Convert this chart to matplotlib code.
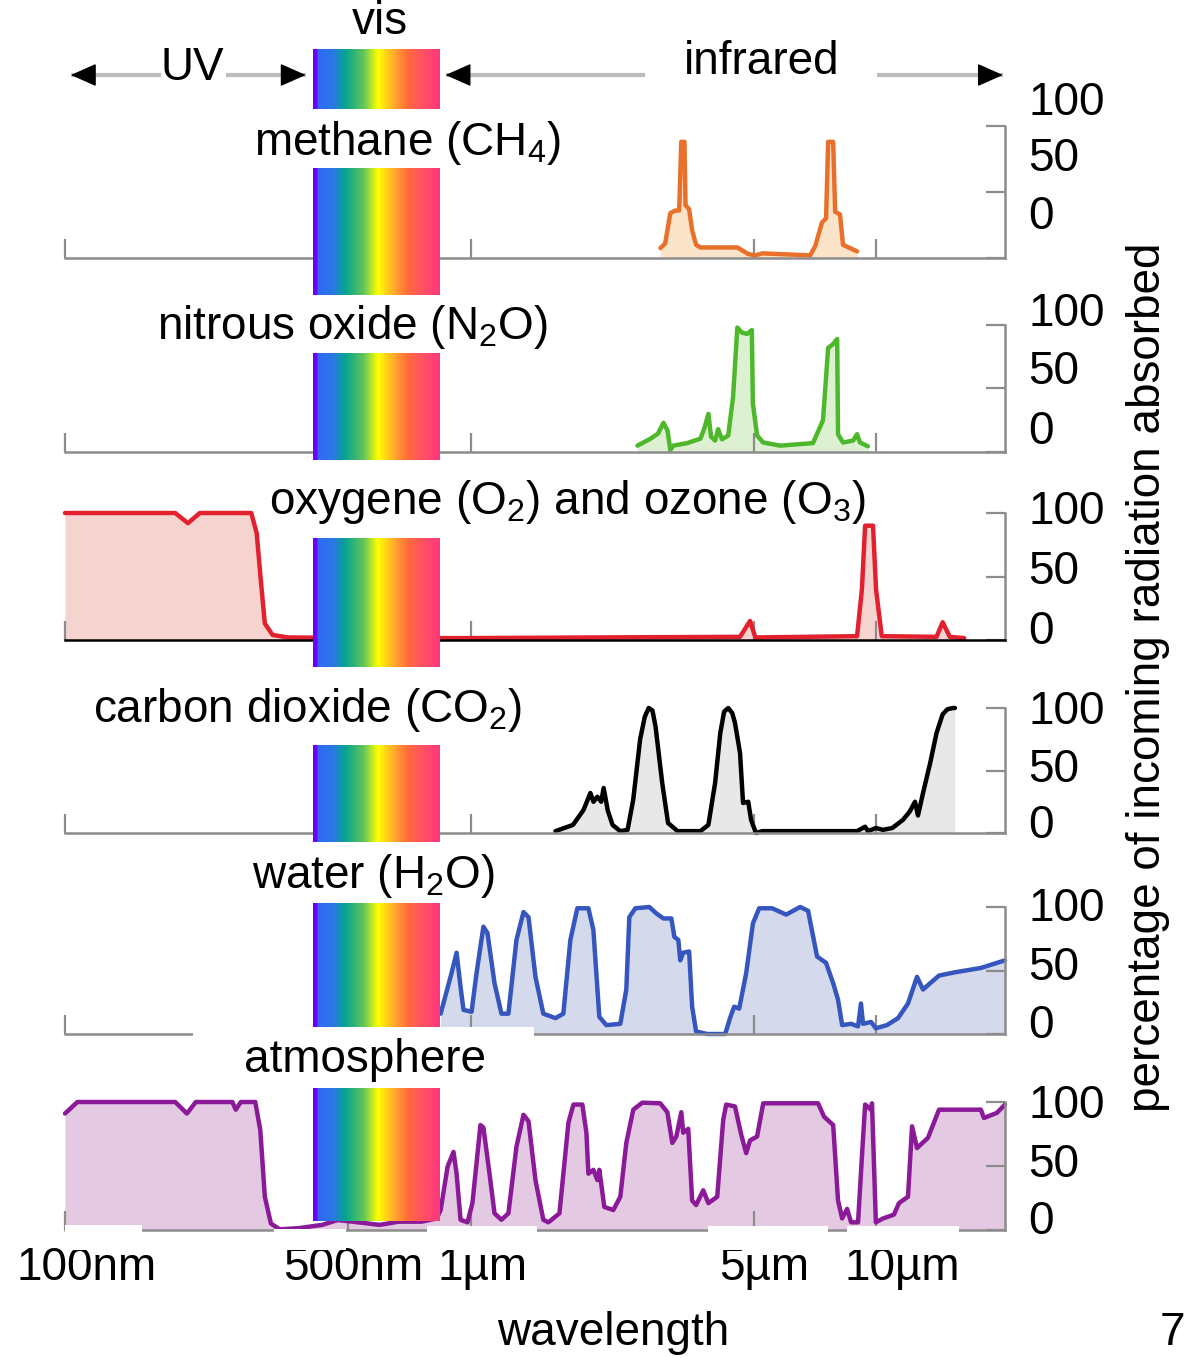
import matplotlib
matplotlib.use("Agg")
import matplotlib.pyplot as plt
import numpy as np
from matplotlib.colors import LinearSegmentedColormap
from matplotlib.patches import Rectangle
from matplotlib.ticker import NullLocator
from matplotlib.transforms import blended_transform_factory, offset_copy

plt.rcParams["font.family"] = ["Liberation Sans", "DejaVu Sans"]
plt.rcParams["mathtext.fontset"] = "custom"
plt.rcParams["mathtext.rm"] = "Liberation Sans"
plt.rcParams["mathtext.it"] = "Liberation Sans:italic"
plt.rcParams["mathtext.bf"] = "Liberation Sans:bold"

# wavelength (µm), percentage absorbed
METHANE = [(2.94, 7.5), (3.02, 11), (3.11, 34), (3.20, 36), (3.27, 36), (3.31, 88),
           (3.37, 88), (3.39, 40), (3.46, 37), (3.52, 21), (3.60, 10), (3.69, 8),
           (4.55, 8), (4.84, 3), (5.04, 2), (5.24, 3.5), (6.88, 2), (7.08, 9),
           (7.36, 27), (7.53, 30), (7.62, 88), (7.84, 88), (7.93, 35), (8.15, 33),
           (8.29, 10), (8.63, 7.5), (8.98, 5)]

N2O = [(2.58, 5), (2.78, 10.5), (2.90, 14.5), (2.99, 23), (3.06, 17), (3.11, 1.5),
       (3.16, 5), (3.42, 7), (3.69, 10.5), (3.78, 19.5), (3.86, 30), (3.92, 12),
       (4.01, 9), (4.08, 18), (4.17, 10), (4.32, 13), (4.44, 43), (4.55, 98),
       (4.67, 94), (4.81, 93), (4.94, 96), (4.97, 38), (5.09, 13), (5.27, 7.5),
       (5.80, 5), (6.99, 7), (7.40, 25), (7.62, 82), (7.84, 85), (8.02, 89),
       (8.06, 14), (8.29, 7.5), (8.78, 9), (8.98, 14), (9.13, 7.5), (9.55, 4.5)]

O2_O3 = [(0.1, 100), (0.187, 100), (0.201, 92), (0.215, 100), (0.288, 100),
         (0.297, 84), (0.304, 47), (0.311, 13), (0.325, 4), (0.354, 2), (0.6, 1.5),
         (1.0, 1.5), (2.0, 2), (4.62, 2.5), (4.89, 15), (5.04, 2), (8.98, 3),
         (9.23, 40), (9.40, 90), (9.83, 90), (10.0, 40), (10.33, 3), (14.1, 2.5),
         (14.6, 14), (15.2, 2.5), (16.5, 1.5)]

CO2 = [(1.62, 1.5), (1.79, 6.5), (1.90, 18.5), (1.975, 32), (2.01, 25), (2.055, 29),
       (2.10, 25), (2.13, 36), (2.18, 18), (2.24, 6.5), (2.34, 1.5), (2.44, 2.5),
       (2.52, 27), (2.62, 75), (2.69, 93), (2.75, 100), (2.81, 98), (2.86, 85),
       (2.97, 40), (3.07, 8), (3.24, 1.5), (3.69, 1.5), (3.86, 6.5), (4.01, 40),
       (4.13, 80), (4.22, 97), (4.32, 100), (4.42, 96), (4.49, 88), (4.62, 64),
       (4.70, 24), (4.84, 25), (4.92, 10.5), (4.97, 6.5), (5.06, 0), (5.24, 1.5),
       (8.98, 1.5), (9.40, 5), (9.55, 1.5), (10.0, 4), (10.4, 2.5), (10.97, 4),
       (11.65, 10.5), (12.1, 17), (12.48, 25), (12.69, 14), (13.06, 32), (13.6, 56),
       (14.1, 80), (14.6, 95), (15.0, 99), (15.48, 100), (15.65, 100)]

WATER = [(0.844, 16), (0.898, 48), (0.924, 64), (0.945, 37), (0.961, 19), (1.006, 17.5),
         (1.035, 48), (1.076, 84.5), (1.101, 79.5), (1.146, 40), (1.192, 16), (1.240, 16),
         (1.298, 74), (1.351, 96), (1.390, 92), (1.446, 45), (1.512, 16), (1.620, 12.5),
         (1.694, 16), (1.763, 74), (1.834, 99), (1.953, 99), (2.009, 82), (2.078, 13.5),
         (2.163, 7), (2.341, 8), (2.422, 35), (2.464, 92), (2.550, 99), (2.760, 100),
         (2.872, 95), (2.99, 91), (3.128, 91), (3.182, 76.5), (3.255, 74), (3.29, 58),
         (3.346, 64), (3.46, 65), (3.52, 21.5), (3.60, 2), (3.835, 0), (4.246, 0),
         (4.370, 13), (4.469, 21.5), (4.598, 20), (4.785, 48), (4.97, 87), (5.150, 99),
         (5.544, 99), (6.003, 94), (6.50, 100), (6.80, 97), (6.92, 84.5), (7.156, 61),
         (7.53, 56), (7.84, 40), (8.06, 27), (8.25, 7), (8.68, 8), (9.03, 6), (9.18, 24),
         (9.29, 8), (9.72, 9.5), (9.99, 4.5), (10.64, 7), (11.33, 12.5), (11.99, 24),
         (12.62, 45), (13.06, 35), (13.6, 40), (14.30, 46), (15.6, 48.5), (18.14, 52),
         (20.8, 58)]

ATMOSPHERE = [(0.1, 91), (0.1073, 100), (0.187, 100), (0.1998, 91), (0.2102, 100),
              (0.2586, 100), (0.2637, 94), (0.2714, 100), (0.2946, 100), (0.3031, 78),
              (0.311, 26), (0.322, 5), (0.3384, 0.5), (0.378, 1.5), (0.4308, 4),
              (0.4703, 7.8), (0.5122, 6.5), (0.597, 4), (0.6648, 6.5), (0.7574, 6.5),
              (0.8245, 9), (0.844, 15.6), (0.878, 49.5), (0.908, 61), (0.924, 44),
              (0.945, 8), (0.983, 6), (1.011, 21), (1.058, 82), (1.076, 80), (1.114, 44),
              (1.146, 13), (1.192, 8), (1.240, 13), (1.298, 65), (1.351, 90), (1.390, 85),
              (1.446, 39), (1.512, 8), (1.556, 6), (1.657, 13), (1.744, 84), (1.794, 98),
              (1.887, 98), (1.931, 76), (1.953, 44), (2.009, 47), (2.055, 39), (2.078, 47),
              (2.138, 18), (2.250, 15.6), (2.341, 26), (2.422, 68), (2.52, 94),
              (2.652, 99.5), (2.937, 99), (3.058, 92), (3.145, 68), (3.217, 73), (3.31, 92),
              (3.346, 76), (3.443, 79), (3.52, 23), (3.60, 19.5), (3.749, 31), (3.86, 21),
              (4.059, 26), (4.199, 86), (4.271, 98), (4.49, 96.5), (4.651, 74.5),
              (4.785, 60), (4.89, 70), (5.09, 73), (5.27, 99), (7.196, 99), (7.445, 88.5),
              (7.84, 82), (8.06, 23), (8.25, 9), (8.484, 16.5), (8.68, 6), (9.03, 6),
              (9.23, 57), (9.40, 98), (9.72, 94), (9.775, 99), (9.99, 6), (10.4, 9),
              (11.07, 12), (11.39, 21), (11.99, 26), (12.27, 81), (12.62, 64), (13.43, 72),
              (14.30, 94), (18.14, 94), (18.45, 87.5), (19.86, 91.5), (20.8, 98)]

TITLES = ["methane (CH$_4$)", "nitrous oxide (N$_2$O)",
          "oxygene (O$_2$) and ozone (O$_3$)", "carbon dioxide (CO$_2$)",
          "water (H$_2$O)", "atmosphere"]
SERIES = [METHANE, N2O, O2_O3, CO2, WATER, ATMOSPHERE]
LINE_COLORS = ["#E8702A", "#4DB82B", "#E3202E", "#000000", "#3556BE", "#8A1A98"]
FILL_COLORS = ["#FCE4CA", "#DDF1D2", "#F5D4CF", "#E8E8E8", "#D4DAEB", "#E4C9E3"]

X_TICKS = [0.1, 0.5, 1, 5, 10]
X_TICK_LABELS = ["100nm", "500nm", "1µm", "5µm", "10µm"]
Y_TICKS = [100, 50, 0]
VIS_BAND = (0.408, 0.843)
XLIM = (0.1, 20.8)

# layout (pixel rows / columns of the 1187x1358 canvas)
W, H = 1187, 1358
FS = 33
GRAY = "#8C8C8C"
PANEL_ROWS = [(126, 258), (325, 452), (513, 640), (708, 833), (907, 1034), (1102, 1230)]
TITLE_POS = [(407, 143), (352, 327), (567, 502), (308, 710), (373, 876), (365, 1060)]
LABEL_SHIFT = [(23, 33, 41), (11, 17, 20), (1, 5, 8), (-4, 1, 7), (-2, 2, 8), (-4, 1, 8)]
RAINBOW_ROWS = [(49, 109), (168, 295), (353, 460), (538, 667), (745, 842), (903, 1027), (1088, 1221)]
TICK_LABEL_DX = [22, 5, 12, 10, 26]
MASKS = [(193, 1027, 534, 1042), (65, 1225, 142, 1250), (274, 1229, 346, 1250),
         (427, 1226, 537, 1250), (708, 1226, 828, 1250), (847, 1226, 959, 1250)]

RAINBOW = LinearSegmentedColormap.from_list("vis", [
    (0.0, "#6B00FF"), (0.03, "#6B00FF"), (0.04, "#3068F2"), (0.16, "#2A78E4"),
    (0.25, "#04A290"), (0.40, "#62C65A"), (0.51, "#FFFF00"), (0.64, "#FFA82C"),
    (0.75, "#FF6A3A"), (0.86, "#FF5260"), (1.0, "#FF3580")])


def rect(x0, y0, x1, y1):
    return [x0 / W, 1 - y1 / H, (x1 - x0) / W, (y1 - y0) / H]


def fpos(x, y):
    return x / W, 1 - y / H


fig = plt.figure(figsize=(W / 100, H / 100), dpi=100)

for i, pts in enumerate(SERIES):
    top, bot = PANEL_ROWS[i]
    ax = fig.add_axes(rect(65, top, 1005, bot))
    ax.set_facecolor("none")
    ax.set_xscale("log")
    ax.set_xlim(*XLIM)
    ax.set_ylim(0, 100)
    wl, ab = zip(*pts)
    ax.fill_between(wl, ab, 0, color=FILL_COLORS[i], lw=0, clip_on=False, zorder=1)
    ax.plot(wl, ab, color=LINE_COLORS[i], lw=3.2, clip_on=False, zorder=2,
            solid_joinstyle="round", solid_capstyle="round")

    for side in ("top", "left"):
        ax.spines[side].set_visible(False)
    spine_color = "black" if i == 2 else GRAY
    ax.spines["bottom"].set_color(spine_color)
    ax.spines["bottom"].set_linewidth(1.8)
    ax.spines["right"].set_color(GRAY)
    ax.spines["right"].set_linewidth(1.8)

    ax.set_xticks(X_TICKS)
    ax.xaxis.set_minor_locator(NullLocator())
    ax.tick_params(axis="x", direction="in", length=14, width=1.6, color=GRAY,
                   labelbottom=False)
    for tick, col in zip(ax.xaxis.get_major_ticks(), [GRAY, "black", GRAY, "black", "black"]):
        tick.tick1line.set_color(col)
    ax.set_yticks(Y_TICKS)
    ax.yaxis.tick_right()
    ax.tick_params(axis="y", direction="in", length=14, width=1.6, color=GRAY,
                   labelright=False, labelleft=False)

    trans = blended_transform_factory(ax.transAxes, ax.transData)
    for v, dy in zip(Y_TICKS, LABEL_SHIFT[i]):
        ax.text(1, v, str(v), transform=offset_copy(trans, fig=fig, x=23, y=dy, units="dots"),
                ha="left", va="center", fontsize=FS, clip_on=False)

    tx, ty = TITLE_POS[i]
    fig.text(*fpos(tx, ty), TITLES[i], ha="center", va="center", fontsize=FS)

# wavelength tick labels under the last panel
xtrans = ax.get_xaxis_transform()
for wl_tick, lab, dx in zip(X_TICKS, X_TICK_LABELS, TICK_LABEL_DX):
    ax.text(wl_tick, 0, lab, transform=offset_copy(xtrans, fig=fig, x=dx, y=-38, units="dots"),
            ha="center", va="center", fontsize=FS, clip_on=False)

# visible-light band drawn over every panel
edges = np.geomspace(VIS_BAND[0], VIS_BAND[1], 257)
for top, bot in RAINBOW_ROWS:
    rax = fig.add_axes(rect(65, top, 1005, bot))
    rax.set_xscale("log")
    rax.set_xlim(*XLIM)
    rax.set_ylim(0, 1)
    rax.axis("off")
    rax.pcolormesh(edges, [0, 1], np.linspace(0, 1, 256)[None, :], cmap=RAINBOW,
                   shading="flat")

# header: UV / vis / infrared arrows
hx = fig.add_axes(rect(65, 30, 1005, 120))
hx.set_xscale("log")
hx.set_xlim(*XLIM)
hx.set_ylim(0, 1)
hx.axis("off")
for a, b in [(0.1034, 0.1724), (0.2491, 0.3922), (0.868, 2.70), (10.06, 20.55)]:
    hx.plot([a, b], [0.5, 0.5], color="#BDBDBD", lw=3, solid_capstyle="butt")
for tip, back in [(0.1034, 0.1034 * 1.13), (0.3922, 0.3922 / 1.13),
                  (0.868, 0.868 * 1.13), (20.55, 20.55 / 1.13)]:
    hx.annotate("", xy=(tip, 0.5), xytext=(back, 0.5),
                arrowprops=dict(arrowstyle="-|>,head_length=0.9,head_width=0.4",
                                mutation_scale=18, color="black", lw=1,
                                shrinkA=0, shrinkB=0))
fig.text(*fpos(192, 68), "UV", ha="center", va="center", fontsize=FS)
fig.text(*fpos(762, 62), "infrared", ha="center", va="center", fontsize=FS)
fig.text(*fpos(380, 22), "vis", ha="center", va="center", fontsize=FS)

for x0, y0, x1, y1 in MASKS:
    fig.patches.append(Rectangle(fpos(x0, y1), (x1 - x0) / W, (y1 - y0) / H,
                                 transform=fig.transFigure, facecolor="white",
                                 edgecolor="none", zorder=1))

fig.text(*fpos(613, 1333), "wavelength", ha="center", va="center", fontsize=FS)
fig.text(*fpos(1148, 677), "percentage of incoming radiation absorbed",
         rotation=90, ha="center", va="center", fontsize=FS)
fig.text(*fpos(1185, 1333), "7", ha="right", va="center", fontsize=FS)

fig.savefig("out.png", dpi=100)
